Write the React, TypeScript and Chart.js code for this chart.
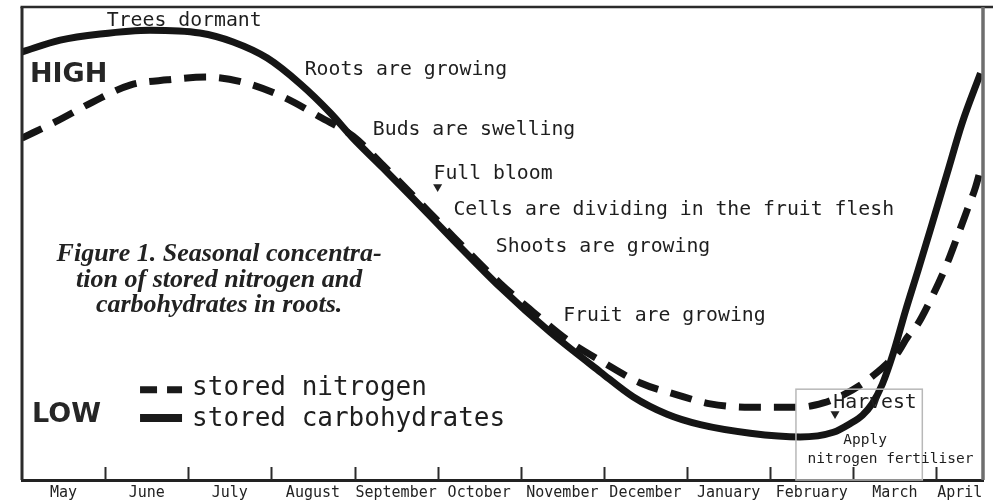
import React, { useEffect, useRef } from "react";
import { Chart, registerables } from "chart.js";

Chart.register(...registerables);

// ---- data (x = months since the start of May, y = relative level 0..100) ----
const monthLabels = [
  "May", "June", "July", "August", "September", "October",
  "November", "December", "January", "February", "March", "April",
];
const X_MAX = 11.56; // April is only partly shown

const seriesLabels = ["stored nitrogen", "stored carbohydrates"];

const nitrogenX = [0, 0.4, 0.85, 1.3, 1.75, 2.23, 2.66, 3.14, 3.59, 3.98, 4.34, 4.71, 5.19, 5.75, 6.15, 6.56, 6.99, 7.44, 7.88, 8.28, 8.76, 9.36, 9.64, 9.88, 10.12, 10.29, 10.41, 10.53, 10.65, 10.77, 10.93, 11.11, 11.25, 11.37, 11.47, 11.55];
const nitrogenY = [72.3, 75.7, 79.9, 83.5, 84.6, 85.2, 84.1, 81.0, 76.7, 72.7, 66.6, 60.0, 51.4, 41.6, 35.5, 29.6, 24.9, 20.5, 18.0, 16.1, 15.4, 15.4, 16.3, 18.0, 20.5, 22.8, 24.7, 26.8, 30.2, 32.8, 38.1, 45.0, 51.4, 57.1, 61.9, 67.0];

const carbX = [0, 0.46, 0.94, 1.54, 2.14, 2.54, 2.95, 3.35, 3.71, 3.98, 4.34, 4.71, 5.19, 5.75, 6.35, 6.96, 7.35, 7.76, 8.16, 8.76, 9.36, 9.76, 9.96, 10.11, 10.23, 10.35, 10.48, 10.63, 10.78, 10.95, 11.13, 11.31, 11.53];
const carbY = [90.5, 93.0, 94.3, 95.1, 94.5, 92.6, 89.2, 83.7, 77.6, 72.3, 66.0, 59.4, 50.7, 40.8, 31.3, 22.8, 17.6, 13.9, 11.7, 9.9, 9.1, 10.1, 11.9, 13.7, 16.2, 20.3, 26.8, 35.9, 44.4, 54.3, 64.9, 75.5, 86.0];

// stage notes along the season
const stageTexts = [
  "Trees dormant", "Roots are growing", "Buds are swelling", "Full bloom",
  "Cells are dividing in the fruit flesh", "Shoots are growing", "Fruit are growing", "Harvest",
];
const stageX = [1.02, 3.40, 4.22, 4.95, 5.19, 5.70, 6.51, 9.76];
const stageY = [96.0, 85.6, 72.9, 63.6, 56.0, 48.2, 33.6, 15.2];

// event markers (full bloom, harvest)
const eventX = [5.0, 9.78];
const eventY = [62.0, 14.0];

const applyTexts = ["Apply", "nitrogen fertiliser"];
const applyX = [9.88, 9.45];
const applyY = [7.6, 3.6];
const harvestBoxX = [9.31, 10.83];
const harvestBoxTop = 19.2;

const levelTexts = ["HIGH", "LOW"];
const levelX = [0.096, 0.12];
const levelY = [84.1, 12.3];

const captionLines = [
  "Figure 1. Seasonal concentra-",
  "tion of stored nitrogen and",
  "carbohydrates in roots.",
];

const MONO = '"DejaVu Sans Mono", monospace';

const decorPlugin = {
  id: "decor",
  afterDraw(chart: any) {
    const { ctx, chartArea: ca } = chart;
    const xs = chart.scales.x;
    const ys = chart.scales.y;
    const px = (v: number) => xs.getPixelForValue(v);
    const py = (v: number) => ys.getPixelForValue(v);
    ctx.save();

    // frame
    ctx.strokeStyle = "#2b2b2b";
    ctx.lineWidth = 3;
    ctx.beginPath();
    ctx.moveTo(ca.left, ca.bottom);
    ctx.lineTo(ca.left, ca.top);
    ctx.stroke();
    ctx.lineWidth = 2.5;
    ctx.beginPath();
    ctx.moveTo(ca.left - 1.5, ca.top);
    ctx.lineTo(chart.width, ca.top);
    ctx.stroke();
    ctx.strokeStyle = "#6e6e6e";
    ctx.lineWidth = 3.5;
    ctx.beginPath();
    ctx.moveTo(ca.right, ca.top);
    ctx.lineTo(ca.right, ca.bottom);
    ctx.stroke();

    // month boundary ticks (pointing up)
    ctx.strokeStyle = "#2b2b2b";
    ctx.lineWidth = 2;
    for (let i = 1; i < monthLabels.length; i++) {
      const x = Math.round(px(i)) + 0.5;
      ctx.beginPath();
      ctx.moveTo(x, ca.bottom);
      ctx.lineTo(x, ca.bottom - 13);
      ctx.stroke();
    }

    // harvest box
    ctx.strokeStyle = "#b8b8b8";
    ctx.lineWidth = 1.5;
    ctx.strokeRect(px(harvestBoxX[0]), py(harvestBoxTop), px(harvestBoxX[1]) - px(harvestBoxX[0]), py(0) - py(harvestBoxTop));

    // stage notes
    ctx.fillStyle = "#1e1e1e";
    ctx.textBaseline = "alphabetic";
    ctx.textAlign = "left";
    ctx.font = `19.8px ${MONO}`;
    stageTexts.forEach((t, i) => ctx.fillText(t, px(stageX[i]), py(stageY[i])));
    ctx.font = `14.5px ${MONO}`;
    applyTexts.forEach((t, i) => ctx.fillText(t, px(applyX[i]), py(applyY[i])));

    // HIGH / LOW
    ctx.fillStyle = "#262626";
    ctx.font = 'bold 27px "DejaVu Sans", sans-serif';
    levelTexts.forEach((t, i) => ctx.fillText(t, px(levelX[i]), py(levelY[i])));

    // caption
    ctx.fillStyle = "#222";
    ctx.textAlign = "center";
    ctx.font = 'bold italic 26px "Liberation Serif", serif';
    captionLines.forEach((t, i) => ctx.fillText(t, px(2.371), py(46.3) + i * 25.5));

    // legend
    ctx.textAlign = "left";
    const ds = chart.data.datasets;
    const legendX0 = px(1.42);
    const legendX1 = px(1.925);
    const legendText = px(2.046);
    const rows = [py(18.0), py(11.4)];
    ctx.font = `26px ${MONO}`;
    [0, 1].forEach((k) => {
      const base = rows[k];
      const lineY = base - (k === 0 ? 5 : 8);
      ctx.strokeStyle = "#1a1a1a";
      ctx.lineWidth = k === 0 ? 7 : 8;
      ctx.lineCap = "butt";
      ctx.setLineDash(ds[k].borderDash && ds[k].borderDash.length ? [17, 10] : []);
      ctx.beginPath();
      ctx.moveTo(legendX0, lineY);
      ctx.lineTo(legendX1, lineY);
      ctx.stroke();
      ctx.setLineDash([]);
      ctx.fillStyle = "#1e1e1e";
      ctx.fillText(ds[k].label, legendText, base);
    });

    ctx.restore();
  },
};

export default function App() {
  const ref = useRef<HTMLCanvasElement | null>(null);

  useEffect(() => {
    if (!ref.current) return;
    const chart = new Chart(ref.current, {
      type: "line",
      data: {
        datasets: [
          {
            label: seriesLabels[0],
            data: nitrogenX.map((x, i) => ({ x, y: nitrogenY[i] })),
            borderColor: "#151515",
            borderWidth: 7,
            borderDash: [22, 13],
            borderCapStyle: "butt",
            pointRadius: 0,
            cubicInterpolationMode: "monotone",
            fill: false,
          },
          {
            label: seriesLabels[1],
            data: carbX.map((x, i) => ({ x, y: carbY[i] })),
            borderColor: "#151515",
            borderWidth: 7,
            pointRadius: 0,
            cubicInterpolationMode: "monotone",
            fill: false,
          },
          {
            type: "scatter",
            label: "events",
            data: eventX.map((x, i) => ({ x, y: eventY[i] })),
            pointStyle: "triangle",
            rotation: 180,
            pointRadius: 5.2,
            backgroundColor: "#222",
            borderColor: "#222",
            borderWidth: 0,
            showLine: false,
          } as any,
        ],
      },
      options: {
        responsive: false,
        animation: false,
        devicePixelRatio: 1,
        layout: { padding: { left: 22, right: 10, top: 7, bottom: 0 } },
        plugins: { legend: { display: false }, tooltip: { enabled: false } },
        scales: {
          x: {
            type: "linear",
            min: 0,
            max: X_MAX,
            grid: { display: false, drawTicks: false },
            border: { display: true, color: "#222", width: 3 },
            afterBuildTicks: (scale: any) => {
              scale.ticks = monthLabels.map((_, i) => ({ value: (i + Math.min(i + 1, X_MAX)) / 2 }));
            },
            ticks: {
              autoSkip: false,
              maxRotation: 0,
              minRotation: 0,
              padding: 4,
              color: "#222",
              font: { family: "DejaVu Sans Mono", size: 15 },
              callback: (_v: any, i: number) => monthLabels[i],
            },
          },
          y: { type: "linear", min: 0, max: 100, display: false },
        },
      } as any,
      plugins: [decorPlugin],
    });
    return () => chart.destroy();
  }, []);

  return (
    <div style={{ position: "fixed", left: 0, top: 0, width: 993, height: 500, overflow: "hidden", background: "#fff" }}>
      <canvas ref={ref} width={993} height={506} style={{ display: "block" }} />
    </div>
  );
}
